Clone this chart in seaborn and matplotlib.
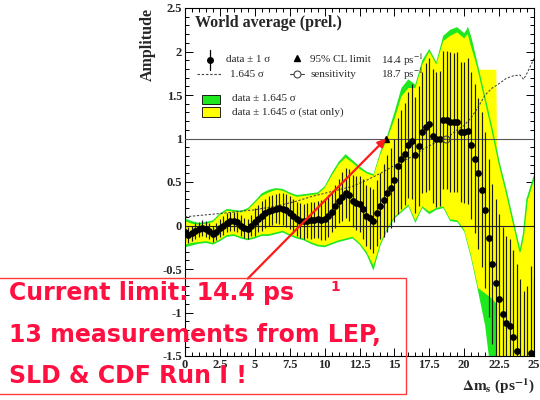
import numpy as np
import matplotlib
matplotlib.use("Agg")
import matplotlib.pyplot as plt
import seaborn as sns
from matplotlib.patches import Rectangle
from matplotlib.lines import Line2D
from matplotlib.ticker import MultipleLocator, FuncFormatter

# ---------------------------------------------------------------- data
# oscillation frequency scan points (ps^-1)
dms = np.linspace(0.0, 25.0, 101)

# measured amplitude at each scan point
amp = [-0.08, -0.11, -0.09, -0.06, -0.045, -0.03, -0.04, -0.065, -0.10, -0.07,
       -0.03, 0.0, 0.03, 0.05, 0.05, 0.04, 0.0, -0.03, -0.04, 0.0,
       0.04, 0.08, 0.11, 0.14, 0.165, 0.18, 0.195, 0.198, 0.19, 0.175,
       0.145, 0.11, 0.075, 0.055, 0.05, 0.055, 0.06, 0.065, 0.07, 0.06,
       0.07, 0.11, 0.16, 0.22, 0.28, 0.33, 0.375, 0.35, 0.28, 0.26,
       0.245, 0.19, 0.11, 0.085, 0.05, 0.146, 0.22, 0.29, 0.37, 0.43,
       0.52, 0.68, 0.76, 0.82, 0.93, 0.97, 0.81, 0.91, 1.07, 1.13,
       1.17, 1.03, 0.99, 1.0, 1.215, 1.215, 1.19, 1.185, 1.19, 1.075,
       1.07, 1.09, 0.92, 0.77, 0.60, 0.41, 0.18, -0.14, -0.44, -0.66,
       -0.85, -1.02, -1.12, -1.16, -1.28, -1.44, -1.62, -1.75, -1.70, -1.46,
       -1.60]

# 1 sigma uncertainty at each scan point
err = [0.09, 0.09, 0.09, 0.09, 0.09, 0.09, 0.09, 0.095, 0.095, 0.10,
       0.10, 0.11, 0.11, 0.11, 0.11, 0.11, 0.115, 0.115, 0.12, 0.12,
       0.16, 0.16, 0.17, 0.17, 0.17, 0.17, 0.17, 0.18, 0.18, 0.19,
       0.19, 0.20, 0.20, 0.20, 0.20, 0.20, 0.21, 0.21, 0.21, 0.23,
       0.24, 0.24, 0.24, 0.25, 0.25, 0.28, 0.29, 0.30, 0.30, 0.31,
       0.32, 0.34, 0.35, 0.36, 0.37, 0.38, 0.38, 0.42, 0.44, 0.46,
       0.48, 0.55, 0.57, 0.59, 0.61, 0.66, 0.67, 0.69, 0.70, 0.74,
       0.76, 0.77, 0.78, 0.78, 0.79, 0.79, 0.80, 0.80, 0.80, 0.80,
       0.81, 0.84, 0.85, 0.86, 0.87, 0.89, 0.90, 0.91, 0.92, 0.96,
       0.98, 1.0, 1.0, 1.0, 1.0, 1.0, 1.0, 1.0, 1.0, 1.0,
       1.0]

# 1.645 sigma (sensitivity) curve
sens_x = [0, 1, 2, 3, 4, 5, 6, 7, 8, 9, 10, 11, 12, 13, 14, 15, 16, 17, 18,
          18.7, 19.5, 20, 20.5, 21, 21.5, 22, 22.5, 23, 23.5, 24, 24.25, 24.5, 25]
sens = [0.10, 0.115, 0.13, 0.145, 0.165, 0.18, 0.21, 0.24, 0.28, 0.33, 0.37,
        0.41, 0.45, 0.52, 0.60, 0.69, 0.77, 0.87, 0.96, 1.0, 1.10, 1.15, 1.24,
        1.36, 1.50, 1.58, 1.63, 1.69, 1.72, 1.73, 1.68, 1.75, 1.92]

# band edges (data +- 1.645 sigma), common grid up to 20 ps^-1
band_x = [0, 0.5, 1, 1.5, 2, 2.5, 3, 3.5, 4, 4.5, 5, 5.5, 6, 6.5, 7, 7.5, 8,
          8.5, 9, 9.5, 10, 10.5, 11, 11.5, 12, 12.5, 13, 13.5, 14, 14.5, 15,
          15.5, 16, 16.5, 17, 17.5, 18, 18.5, 19, 19.5, 20]
yellow_up = [0.05, 0.02, 0.01, 0.02, 0.04, 0.12, 0.17, 0.16, 0.15, 0.18, 0.26,
             0.34, 0.38, 0.41, 0.40, 0.36, 0.33, 0.34, 0.35, 0.36, 0.43, 0.57,
             0.70, 0.78, 0.72, 0.65, 0.60, 0.57, 0.82, 1.00, 1.22, 1.48, 1.58,
             1.58, 1.85, 2.00, 1.85, 2.12, 2.18, 2.22, 2.15]
green_up = [0.08, 0.05, 0.03, 0.04, 0.06, 0.14, 0.19, 0.18, 0.17, 0.20, 0.28,
            0.37, 0.41, 0.43, 0.42, 0.38, 0.35, 0.36, 0.37, 0.38, 0.45, 0.60,
            0.73, 0.82, 0.75, 0.68, 0.62, 0.59, 0.85, 1.04, 1.30, 1.58, 1.68,
            1.62, 1.90, 2.03, 1.88, 2.18, 2.25, 2.28, 2.21]
yellow_lo = [-0.22, -0.20, -0.19, -0.18, -0.20, -0.16, -0.11, -0.10, -0.13,
             -0.15, -0.13, -0.10, -0.10, -0.08, -0.06, -0.10, -0.13, -0.15,
             -0.19, -0.22, -0.23, -0.20, -0.17, -0.15, -0.13, -0.20, -0.30,
             -0.46, -0.20, -0.03, 0.10, 0.17, 0.24, 0.06, 0.22, 0.16, 0.20,
             0.22, 0.07, 0.06, -0.05]
green_lo = [-0.25, -0.23, -0.21, -0.20, -0.22, -0.18, -0.13, -0.12, -0.15,
            -0.17, -0.15, -0.12, -0.12, -0.10, -0.08, -0.12, -0.15, -0.17,
            -0.21, -0.24, -0.25, -0.22, -0.19, -0.17, -0.15, -0.22, -0.33,
            -0.52, -0.23, -0.05, 0.08, 0.15, 0.22, 0.03, 0.20, 0.13, 0.18,
            0.20, 0.05, 0.04, -0.07]

# band edges beyond 20 ps^-1
yellow_up_tail_x = [20.25, 20.5, 21, 22.3, 22.35, 22.5, 23, 23.5, 24, 24.25, 24.5, 25]
yellow_up_tail = [2.20, 2.05, 1.79, 1.79, 0.90, 0.70, 0.38, 0.03, -0.28, -0.07, 0.27, 0.52]
green_up_tail_x = [20.25, 20.5, 21, 21.5, 22, 22.5, 23, 23.5, 24, 24.25, 24.5, 25]
green_up_tail = [2.27, 2.14, 1.80, 1.45, 1.10, 0.72, 0.40, 0.05, -0.30, -0.10, 0.30, 0.56]
yellow_lo_tail_x = [20.5, 21, 21.5, 22, 22.3, 22.35, 25]
yellow_lo_tail = [-0.35, -0.72, -0.78, -0.84, -0.90, -2.0, -2.0]
green_lo_tail_x = [20.5, 21, 21.5, 21.8, 22.0, 25]
green_lo_tail = [-0.38, -0.76, -1.15, -1.55, -2.0, -2.0]

cl_limit = 14.4
sensitivity = 18.7

# ---------------------------------------------------------------- style
sns.set_theme(style="ticks")
plt.rcParams["font.family"] = ["Liberation Serif", "DejaVu Serif"]
plt.rcParams["mathtext.fontset"] = "stix"
plt.rcParams["axes.unicode_minus"] = False

fig = plt.figure(figsize=(5.4, 4.0), dpi=100)
fig.patch.set_facecolor("white")
ax = fig.add_axes([0.3426, 0.11, 0.6463, 0.87])
ax.set_facecolor("white")

GREEN = "#1ee81e"
YELLOW = "#ffff00"


def polygon(xu, yu, xl, yl):
    xs = np.r_[np.asarray(xu, float), np.asarray(xl, float)[::-1]]
    ys = np.r_[np.asarray(yu, float), np.asarray(yl, float)[::-1]]
    return xs, ys


gx, gy = polygon(band_x + green_up_tail_x, green_up + green_up_tail,
                 band_x + green_lo_tail_x, green_lo + green_lo_tail)
yx, yy = polygon(band_x + yellow_up_tail_x, yellow_up + yellow_up_tail,
                 band_x + yellow_lo_tail_x, yellow_lo + yellow_lo_tail)
ax.fill(gx, gy, color=GREEN, lw=0, zorder=1)
ax.fill(yx, yy, color=YELLOW, lw=0, zorder=2)
ax.plot(green_up_tail_x, green_up_tail, color=GREEN, lw=1.0, zorder=2.5)

# reference lines
ax.axhline(0, color="#222222", lw=0.8, zorder=2.6)
ax.axhline(1, color="#555555", lw=0.8, zorder=2.6)

# sensitivity curve
sns.lineplot(x=sens_x, y=sens, ax=ax, color="#444444", lw=0.75,
             linestyle=(0, (2.2, 1.6)), zorder=3, sort=False)

# error bars and points
amp_a = np.asarray(amp)
err_a = np.asarray(err)
ax.vlines(dms, amp_a - err_a, amp_a + err_a, color="#1a1a1a", lw=0.85, zorder=3.5)
sns.scatterplot(x=dms, y=amp_a, ax=ax, color="black", s=24, linewidth=0,
                zorder=4)

# limit and sensitivity markers
ax.plot([cl_limit], [1.0], marker="^", color="black", ms=5, zorder=5)
ax.plot([sensitivity], [1.0], marker="o", mfc="none", mec="#444444",
        ms=5, mew=0.8, zorder=5)

# ---------------------------------------------------------------- axes
ax.set_xlim(0, 25)
ax.set_ylim(-1.5, 2.5)
ax.xaxis.set_major_locator(MultipleLocator(2.5))
ax.xaxis.set_minor_locator(MultipleLocator(0.5))
ax.yaxis.set_major_locator(MultipleLocator(0.5))
ax.yaxis.set_minor_locator(MultipleLocator(0.1))
fmt = FuncFormatter(lambda v, p: "%g" % v)
ax.xaxis.set_major_formatter(fmt)
ax.yaxis.set_major_formatter(fmt)
ax.tick_params(which="both", direction="in", top=True, right=True,
               color="black", width=0.7)
ax.tick_params(which="major", length=6, labelsize=9, pad=2)
ax.tick_params(which="minor", length=3)
for lab in ax.get_xticklabels() + ax.get_yticklabels():
    lab.set_fontweight("bold")
for sp in ax.spines.values():
    sp.set_linewidth(0.8)
    sp.set_color("black")
ax.set_xlabel("")
ax.set_ylabel("")

fig.text(0.274, 0.98, "Amplitude", rotation=90, ha="center", va="top",
         fontsize=11.5, fontweight="bold")
fig.text(0.991, 0.037, r"$\mathbf{\Delta m_s}$ (ps$^{\mathbf{-1}}$)",
         ha="right", va="center", fontsize=11, fontweight="bold")

# ---------------------------------------------------------------- legend
T = ax.transAxes
ax.text(0.0287, 0.957, "World average (prel.)", transform=T, ha="left",
        va="center", fontsize=11.5, fontweight="bold", zorder=6)

leg_fs = 8.0
r1, r2, r3, r4 = 0.851, 0.810, 0.739, 0.701
ax.add_line(Line2D([0.0716, 0.0716], [0.822, 0.879], transform=T,
                   color="black", lw=0.9, zorder=6))
ax.add_line(Line2D([0.0716], [r1], transform=T, marker="o", color="black",
                   ms=4, zorder=6))
ax.text(0.1175, r1, "data ± 1 σ", transform=T, ha="left", va="center",
        fontsize=leg_fs, zorder=6)
ax.add_line(Line2D([0.321], [r1 + 0.004], transform=T, marker="^",
                   color="black", ms=5, zorder=6))
ax.text(0.358, r1, "95% CL limit", transform=T, ha="left", va="center",
        fontsize=leg_fs, zorder=6)
ax.text(0.562, r1, r"14.4 ps$^{-1}$", transform=T, ha="left", va="center",
        fontsize=leg_fs, zorder=6)

ax.add_line(Line2D([0.034, 0.106], [r2, r2], transform=T, color="#444444",
                   lw=0.8, linestyle=(0, (2.2, 1.6)), zorder=6))
ax.text(0.129, r2, "1.645 σ", transform=T, ha="left", va="center",
        fontsize=leg_fs, zorder=6)
ax.add_line(Line2D([0.300, 0.342], [r2, r2], transform=T, color="#444444",
                   lw=0.8, zorder=6))
ax.add_line(Line2D([0.321], [r2], transform=T, marker="o", mfc="white",
                   mec="#444444", ms=5, mew=0.8, zorder=6))
ax.text(0.361, r2, "sensitivity", transform=T, ha="left", va="center",
        fontsize=leg_fs, zorder=6)
ax.text(0.562, r2, r"18.7 ps$^{-1}$", transform=T, ha="left", va="center",
        fontsize=leg_fs, zorder=6)

ax.add_patch(Rectangle((0.0487, 0.724), 0.0516, 0.027, transform=T,
                       facecolor=GREEN, edgecolor="black", lw=0.6, zorder=6))
ax.text(0.1347, r3, "data ± 1.645 σ", transform=T, ha="left", va="center",
        fontsize=leg_fs, zorder=6)
ax.add_patch(Rectangle((0.0487, 0.688), 0.0516, 0.027, transform=T,
                       facecolor=YELLOW, edgecolor="black", lw=0.6, zorder=6))
ax.text(0.1347, r4, "data ± 1.645 σ (stat only)", transform=T, ha="left",
        va="center", fontsize=leg_fs, zorder=6)

# ---------------------------------------------------------------- annotation
RED = "#ff1040"
ax.annotate("", xy=(cl_limit, 1.0), xytext=(4.5, -0.61),
            arrowprops=dict(arrowstyle="-|>", color="#ff1a1a", lw=1.6,
                            mutation_scale=12, shrinkA=0, shrinkB=0),
            zorder=7)
fig.add_artist(Rectangle((-0.005, 0.015), 0.757, 0.29,
                         transform=fig.transFigure, fill=False,
                         edgecolor="#ff3b3b", lw=1.0))
note_font = dict(family="DejaVu Sans", fontweight="bold", color=RED,
                 fontsize=17, ha="left", va="center")
fig.text(0.016, 0.267, "Current limit: 14.4 ps", **note_font)
fig.text(0.612, 0.282, "1", family="DejaVu Sans", fontweight="bold",
         color=RED, fontsize=10, ha="left", va="center")
fig.text(0.016, 0.163, "13 measurements from LEP,", **note_font)
fig.text(0.016, 0.060, "SLD & CDF Run I !", **note_font)

fig.savefig("out.png", dpi=100, facecolor="white")
